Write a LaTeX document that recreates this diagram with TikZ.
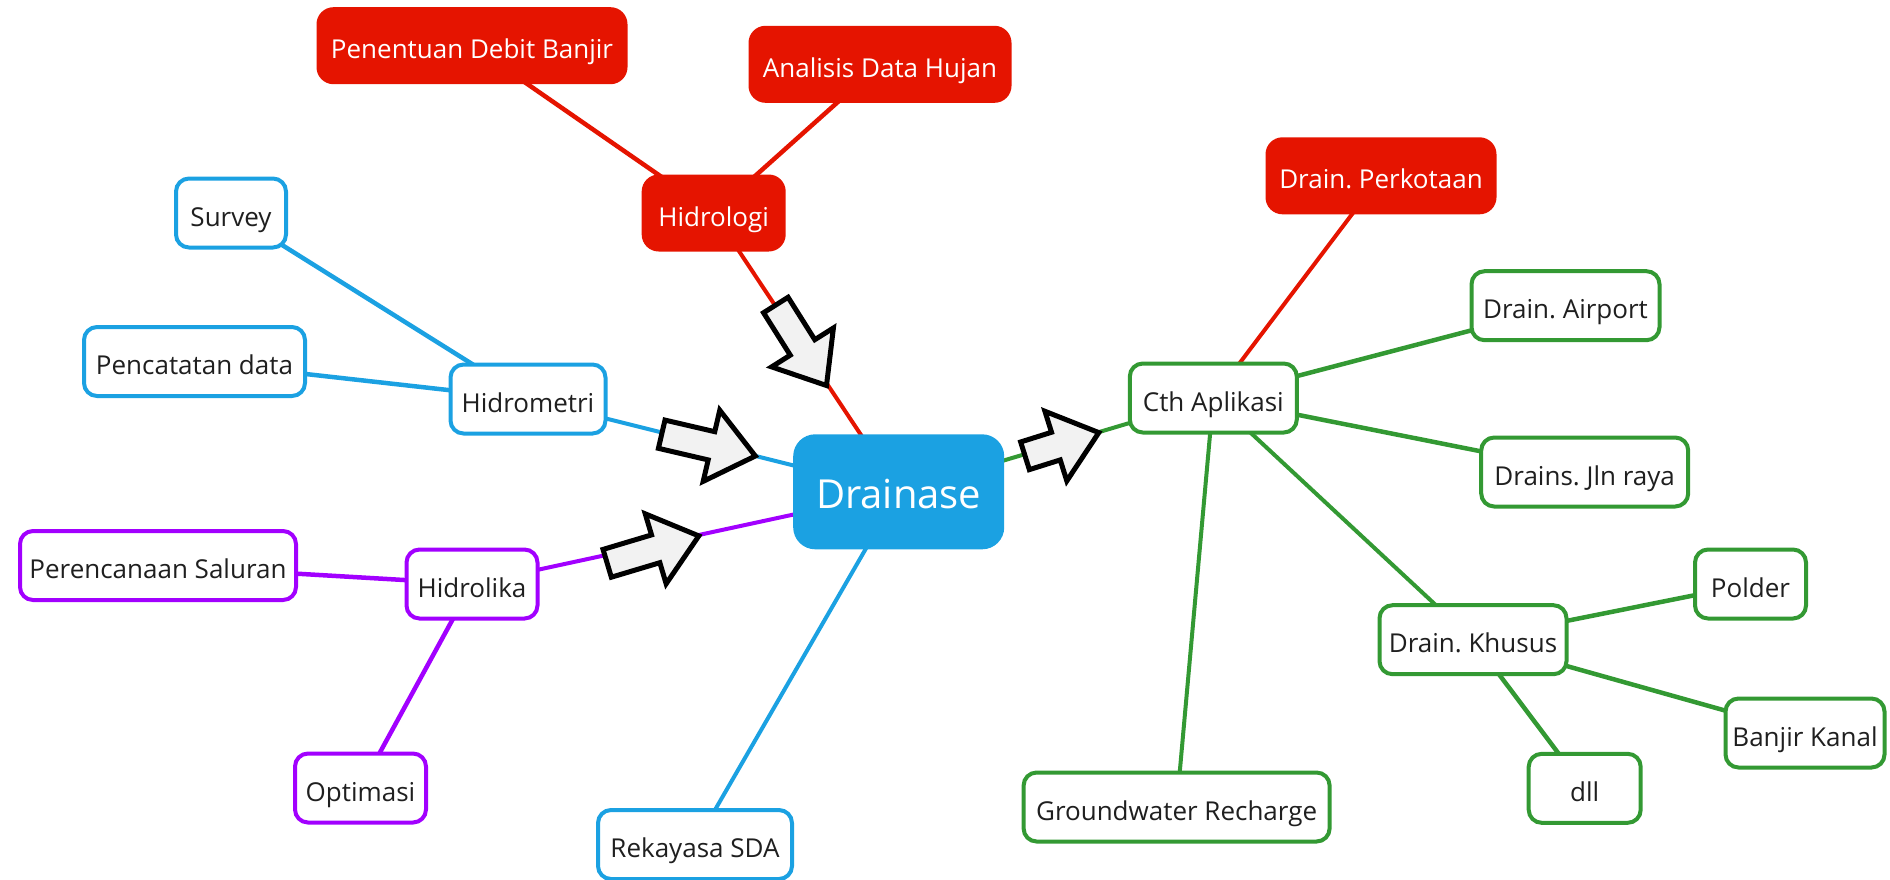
\documentclass[tikz,border=0pt]{standalone}
\usepackage{fontspec}
\setmainfont{Open Sans}
\usetikzlibrary{calc,backgrounds}
\definecolor{mcyan}{HTML}{1BA1E2}
\definecolor{mred}{HTML}{E51400}
\definecolor{mgreen}{HTML}{339933}
\definecolor{mpurple}{HTML}{A200FF}
\definecolor{mtext}{HTML}{1F1F1F}
\definecolor{agray}{HTML}{F2F2F2}
\frenchspacing
\tikzset{
 box/.style={rectangle, rounded corners=13pt, line width=4pt, fill=white, text=mtext,
   font=\fontsize{26pt}{30pt}\selectfont\frenchspacing, inner xsep=2pt, inner ysep=0pt,
   text height=30pt, text depth=4pt, minimum height=69pt},
 bluebox/.style={box, draw=mcyan},
 greenbox/.style={box, draw=mgreen},
 purplebox/.style={box, draw=mpurple},
 redbox/.style={box, draw=mred, fill=mred, text=white, minimum height=73pt, rounded corners=15pt},
 central/.style={box, draw=mcyan, fill=mcyan, text=white, font=\fontsize{40pt}{46pt}\selectfont,
   text height=40pt, text depth=6pt, minimum height=111pt, rounded corners=20pt},
 link/.style={line width=4pt},
 sublink/.style={line width=4.5pt},
 barrow/.style={draw=black, fill=agray, line width=5pt, line join=miter},
}
\newcommand{\blockarrow}[2]{%
 \coordinate (ba-c) at ($(#2)!45pt!(#1)$);
 \draw[barrow] ($(#1)!14.5pt!90:(#2)$) -- ($(ba-c)!14.5pt!90:(#2)$) -- ($(ba-c)!36.5pt!90:(#2)$)
   -- (#2) -- ($(ba-c)!36.5pt!-90:(#2)$) -- ($(ba-c)!14.5pt!-90:(#2)$) -- ($(#1)!14.5pt!-90:(#2)$) -- cycle;}
\begin{document}
\begin{tikzpicture}[x=1pt,y=-1pt]
\useasboundingbox (0,0) rectangle (1890,879);
% nodes
\node[redbox, minimum width=307pt] (pen) at (472,45.7) {Penentuan Debit Banjir};
\node[redbox, minimum width=259pt] (ana) at (880,64.3) {Analisis Data Hujan};
\node[redbox, minimum width=140pt] (hidrologi) at (713.7,213) {Hidrologi};
\node[bluebox, minimum width=110pt] (survey) at (231,213) {Survey};
\node[bluebox, minimum width=221pt] (pencatatan) at (194.5,361.5) {Pencatatan data};
\node[bluebox, minimum width=155pt] (hidrometri) at (528,399) {Hidrometri};
\node[central, minimum width=207pt] (drainase) at (898.7,491.8) {Drainase};
\node[purplebox, minimum width=276pt] (perencanaan) at (158,565.5) {Perencanaan Saluran};
\node[purplebox, minimum width=131pt] (hidrolika) at (472,584) {Hidrolika};
\node[purplebox, minimum width=131pt] (optimasi) at (360.5,788) {Optimasi};
\node[bluebox, minimum width=194pt] (rekayasa) at (695,844.5) {Rekayasa SDA};
\node[redbox, minimum width=227pt] (perkotaan) at (1381,175.8) {Drain. Perkotaan};
\node[greenbox, minimum width=167pt] (cth) at (1213.3,398) {Cth Aplikasi};
\node[greenbox, minimum width=188pt] (airport) at (1565.5,305.7) {Drain. Airport};
\node[greenbox, minimum width=207pt] (jlnraya) at (1584.7,472) {Drains. Jln raya};
\node[greenbox, minimum width=111pt] (polder) at (1750.5,584) {Polder};
\node[greenbox, minimum width=187pt] (khusus) at (1473,639.7) {Drain. Khusus};
\node[greenbox, minimum width=159pt] (banjir) at (1805,733) {Banjir Kanal};
\node[greenbox, minimum width=112pt] (dll) at (1584.7,788.3) {dll};
\node[greenbox, minimum width=306pt] (gw) at (1176.6,807) {Groundwater Recharge};
% connectors
\begin{scope}[on background layer]
\draw[link, mred] (drainase.center) -- (hidrologi.center);
\draw[sublink, mred] (hidrologi.center) -- (pen.center);
\draw[sublink, mred] (hidrologi.center) -- (ana.center);
\draw[link, mcyan] (drainase.center) -- (hidrometri.center);
\draw[sublink, mcyan] (hidrometri.center) -- (survey.center);
\draw[sublink, mcyan] (hidrometri.center) -- (pencatatan.center);
\draw[link, mcyan] (drainase.center) -- (rekayasa.center);
\draw[link, mpurple] (drainase.center) -- (hidrolika.center);
\draw[sublink, mpurple] (hidrolika.center) -- (perencanaan.center);
\draw[sublink, mpurple] (hidrolika.center) -- (optimasi.center);
\draw[link, mgreen] (drainase.center) -- (cth.center);
\draw[link, mred] (cth.center) -- (perkotaan.center);
\draw[sublink, mgreen] (cth.center) -- (airport.center);
\draw[sublink, mgreen] (cth.center) -- (jlnraya.center);
\draw[link, mgreen] (cth.center) -- (gw.center);
\draw[link, mgreen] (cth.center) -- (khusus.center);
\draw[sublink, mgreen] (khusus.center) -- (polder.center);
\draw[sublink, mgreen] (khusus.center) -- (banjir.center);
\draw[sublink, mgreen] (khusus.center) -- (dll.center);
\end{scope}
% block arrows
\coordinate (a1t) at (775.8,305);   \coordinate (a1h) at (826.5,385.5);
\coordinate (a2t) at (661.7,434.2); \coordinate (a2h) at (755.3,456);
\coordinate (a3t) at (607.2,563.3); \coordinate (a3h) at (698.8,535.9);
\coordinate (a4t) at (1025,455.8);  \coordinate (a4h) at (1098.8,432.6);
\blockarrow{a1t}{a1h}
\blockarrow{a2t}{a2h}
\blockarrow{a3t}{a3h}
\blockarrow{a4t}{a4h}
\end{tikzpicture}
\end{document}
